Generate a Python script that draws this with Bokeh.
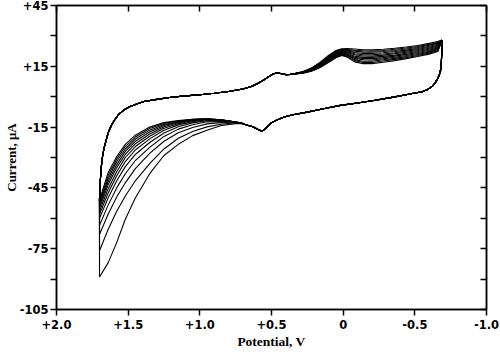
from bokeh.plotting import figure
from bokeh.models import Range1d, FixedTicker, LinearAxis, CustomJSTickFormatter
from bokeh.embed import file_html
from bokeh.resources import INLINE

# ---- data (potential in V, current in uA) ----
# start of first cycle at the switching potential
start1_v = [-0.686, -0.672, -0.655, -0.635]
start1_i = [13.3, 11.0, 8.6, 6.3]
# reversal at -0.69 V for cycles 2..12
rev_v = [-0.69, -0.688, -0.685, -0.68, -0.672, -0.66, -0.645, -0.632]
rev_i = [28.0, 22.0, 17.0, 13.5, 11.0, 9.0, 7.2, 5.9]
# anodic branch shared by all cycles
low_v = [-0.62, -0.59, -0.55, -0.50, -0.447, -0.35, -0.214, -0.10, 0.019, 0.13, 0.251,
         0.35, 0.40, 0.46, 0.50, 0.535, 0.565, 0.59, 0.63, 0.68, 0.70]
low_i = [5.0, 3.6, 2.4, 1.8, 1.1, -0.2, -1.9, -3.1, -4.3, -5.8, -7.6,
         -8.9, -9.8, -11.4, -12.8, -15.3, -17.0, -16.3, -14.8, -13.8, -13.3]
# anodic tail toward +1.70 V, one row per cycle
tail_v = [0.75, 0.85, 0.95, 1.05, 1.15, 1.25, 1.35, 1.45, 1.52, 1.58, 1.64, 1.70]
tail_c1 = [-13.3, -14.2, -16.6, -19.2, -23.5, -29.0, -38.0, -50.0, -60.5, -72.0, -82.0, -89.0]
tail_c2 = [-12.8, -13.6, -14.9, -17.2, -20.5, -25.8, -33.0, -41.5, -49.0, -56.5, -65.5, -76.0]
tail_c3 = [-12.5, -12.8, -13.4, -15.2, -17.8, -22.0, -28.0, -35.5, -42.5, -49.5, -58.0, -68.0]
tail_c4 = [-12.5, -12.2, -12.4, -13.8, -16.0, -19.6, -25.0, -31.5, -38.0, -45.0, -53.5, -63.5]
tail_c5 = [-12.5, -11.9, -11.8, -12.9, -14.8, -17.9, -22.6, -28.5, -34.5, -41.5, -50.0, -60.0]
tail_c6 = [-12.5, -11.7, -11.4, -12.3, -13.9, -16.6, -20.8, -26.3, -32.0, -39.0, -47.5, -58.0]
tail_c7 = [-12.5, -11.6, -11.2, -11.9, -13.3, -15.6, -19.5, -24.6, -30.0, -37.0, -45.5, -56.5]
tail_c8 = [-12.5, -11.5, -11.1, -11.6, -12.8, -14.8, -18.4, -23.2, -28.5, -35.0, -43.5, -55.0]
tail_c9 = [-12.5, -11.5, -11.0, -11.4, -12.5, -14.2, -17.4, -22.0, -27.0, -33.5, -42.0, -54.0]
tail_c10 = [-12.5, -11.4, -11.0, -11.3, -12.2, -13.7, -16.5, -20.9, -25.8, -32.0, -40.5, -53.0]
tail_c11 = [-12.5, -11.4, -10.9, -11.2, -12.0, -13.2, -15.7, -19.9, -24.6, -30.7, -39.0, -52.0]
tail_c12 = [-12.5, -11.4, -10.9, -11.1, -11.8, -12.8, -15.0, -19.0, -23.5, -29.5, -37.5, -51.0]
# return branch shared by all cycles
ret_v = [1.70, 1.695, 1.688, 1.678, 1.665, 1.65, 1.635, 1.615, 1.59, 1.565, 1.53, 1.49, 1.44,
         1.39, 1.30, 1.20, 1.10, 1.00, 0.90, 0.80, 0.70, 0.64, 0.60, 0.56, 0.52, 0.49, 0.46,
         0.43, 0.40, 0.37]
ret_i = [-50, -42, -35, -29, -24.5, -20.5, -17, -13.8, -11, -8.6, -6.6, -5.0, -3.6,
         -2.4, -1.3, -0.3, 0.4, 1.0, 1.7, 2.6, 3.8, 5.0, 6.4, 8.0, 9.8, 11.2, 11.8,
         11.3, 10.9, 11.0]
# cathodic branch toward -0.69 V, one row per cycle
up_v = [0.33, 0.28, 0.22, 0.16, 0.10, 0.05, 0.01, -0.03, -0.08, -0.14, -0.20, -0.28,
        -0.36, -0.44, -0.52, -0.60, -0.66, -0.69]
up_c1 = [11.6, 12.4, 14.2, 17.0, 20.5, 22.8, 23.6, 23.7, 23.5, 23.2, 23.1, 23.4, 23.9, 24.5, 25.3, 26.3, 27.2, 28.0]
up_c2 = [11.6, 12.3, 14.1, 16.8, 20.2, 22.5, 23.3, 23.3, 22.9, 22.6, 22.5, 22.8, 23.4, 24.0, 24.8, 25.8, 26.8, 28.0]
up_c3 = [11.5, 12.3, 13.9, 16.5, 19.9, 22.2, 23.0, 22.9, 22.4, 22.0, 21.9, 22.3, 22.8, 23.5, 24.3, 25.4, 26.3, 27.9]
up_c4 = [11.5, 12.2, 13.8, 16.3, 19.6, 21.8, 22.7, 22.6, 21.8, 21.3, 21.3, 21.7, 22.3, 23.0, 23.8, 24.9, 25.9, 27.9]
up_c5 = [11.5, 12.1, 13.6, 16.1, 19.2, 21.5, 22.4, 22.2, 21.2, 20.7, 20.7, 21.1, 21.7, 22.5, 23.3, 24.4, 25.4, 27.9]
up_c6 = [11.4, 12.0, 13.5, 15.8, 18.9, 21.2, 22.1, 21.8, 20.7, 20.1, 20.0, 20.5, 21.2, 21.9, 22.8, 23.9, 25.0, 27.8]
up_c7 = [11.4, 12.0, 13.3, 15.6, 18.6, 20.8, 21.8, 21.4, 20.0, 19.4, 19.4, 19.9, 20.5, 21.4, 22.3, 23.4, 24.5, 27.8]
up_c8 = [11.3, 11.9, 13.2, 15.3, 18.3, 20.5, 21.5, 21.0, 19.5, 18.8, 18.8, 19.3, 20.0, 20.9, 21.8, 22.9, 24.1, 27.7]
up_c9 = [11.3, 11.8, 13.0, 15.1, 17.9, 20.2, 21.2, 20.6, 18.9, 18.2, 18.1, 18.7, 19.5, 20.3, 21.3, 22.4, 23.6, 27.7]
up_c10 = [11.3, 11.7, 12.9, 14.9, 17.6, 19.9, 20.9, 20.3, 18.3, 17.5, 17.5, 18.2, 18.9, 19.8, 20.8, 22.0, 23.2, 27.7]
up_c11 = [11.2, 11.7, 12.7, 14.6, 17.3, 19.5, 20.6, 19.9, 17.8, 16.9, 16.9, 17.6, 18.4, 19.3, 20.3, 21.5, 22.7, 27.6]
up_c12 = [11.2, 11.6, 12.6, 14.4, 17.0, 19.2, 20.3, 19.5, 17.2, 16.3, 16.3, 17.0, 17.8, 18.8, 19.8, 21.0, 22.3, 27.6]

tails = [tail_c1, tail_c2, tail_c3, tail_c4, tail_c5, tail_c6,
         tail_c7, tail_c8, tail_c9, tail_c10, tail_c11, tail_c12]
ups = [up_c1, up_c2, up_c3, up_c4, up_c5, up_c6,
       up_c7, up_c8, up_c9, up_c10, up_c11, up_c12]

x_ticks = [2.0, 1.5, 1.0, 0.5, 0.0, -0.5, -1.0]
y_ticks = [-105, -75, -45, -15, 15, 45]
y_minor = [-90, -60, -30, 0, 30]
y_all = [-105, -90, -75, -60, -45, -30, -15, 0, 15, 30, 45]

# ---- figure ----
p = figure(width=500, height=352, x_range=Range1d(2.0, -1.0), y_range=Range1d(-105, 45),
           output_backend="svg", toolbar_location=None,
           min_border_left=50, min_border_right=14, min_border_top=5, min_border_bottom=43)
p.grid.visible = False
p.outline_line_color = "black"
p.outline_line_width = 1.5
p.background_fill_color = "white"
p.border_fill_color = "white"

for k in range(12):
    if k == 0:
        xs = list(start1_v)
        ys = list(start1_i)
    else:
        xs = list(rev_v)
        ys = list(rev_i)
    xs += low_v + tail_v + ret_v + up_v
    ys += low_i + tails[k] + ret_i + ups[k]
    p.line(xs, ys, line_color="black", line_width=1.1)

tick_font = "DejaVu Sans"
xa = p.xaxis[0]
xa.ticker = FixedTicker(ticks=x_ticks, minor_ticks=[])
xa.formatter = CustomJSTickFormatter(code="""
if (Math.abs(tick) < 1e-9) return '0';
return (tick > 0 ? '+' : '') + tick.toFixed(1);
""")
xa.axis_label = "Potential, V"

ya = p.yaxis[0]
ya.ticker = FixedTicker(ticks=y_ticks, minor_ticks=y_minor)
ya.formatter = CustomJSTickFormatter(code="""
return (tick > 0 ? '+' : '') + String(Math.round(tick));
""")
ya.axis_label = "Current, \u03bcA"

for ax in (xa, ya):
    ax.major_tick_out = 6
    ax.major_tick_in = 0
    ax.minor_tick_out = 6
    ax.minor_tick_in = 0
    ax.axis_line_width = 1.5
    ax.major_tick_line_width = 1.5
    ax.minor_tick_line_width = 1.5
    ax.major_label_text_font = tick_font
    ax.major_label_text_font_style = "bold"
    ax.major_label_text_font_size = "11.5px"
    ax.major_label_text_color = "black"
    ax.axis_label_text_font = "Liberation Serif"
    ax.axis_label_text_font_style = "bold"
    ax.axis_label_text_font_size = "13.5px"
    ax.axis_label_text_color = "black"

xa.major_label_standoff = 4
xa.axis_label_standoff = 2
ya.major_label_standoff = 2
ya.axis_label_standoff = -2
ya.axis_label_text_font_size = "13px"

blank = CustomJSTickFormatter(code="return '';")
top = LinearAxis(ticker=FixedTicker(ticks=x_ticks, minor_ticks=[]), formatter=blank,
                 major_tick_in=6, major_tick_out=0, minor_tick_in=0, minor_tick_out=0,
                 axis_line_width=1.5, major_tick_line_width=1.5, major_label_standoff=0)
right = LinearAxis(ticker=FixedTicker(ticks=y_all, minor_ticks=[]), formatter=blank,
                   major_tick_in=6, major_tick_out=0, minor_tick_in=0, minor_tick_out=0,
                   axis_line_width=1.5, major_tick_line_width=1.5, major_label_standoff=0)
p.add_layout(top, "above")
p.add_layout(right, "right")

open("out.html", "w").write(file_html(p, INLINE))
